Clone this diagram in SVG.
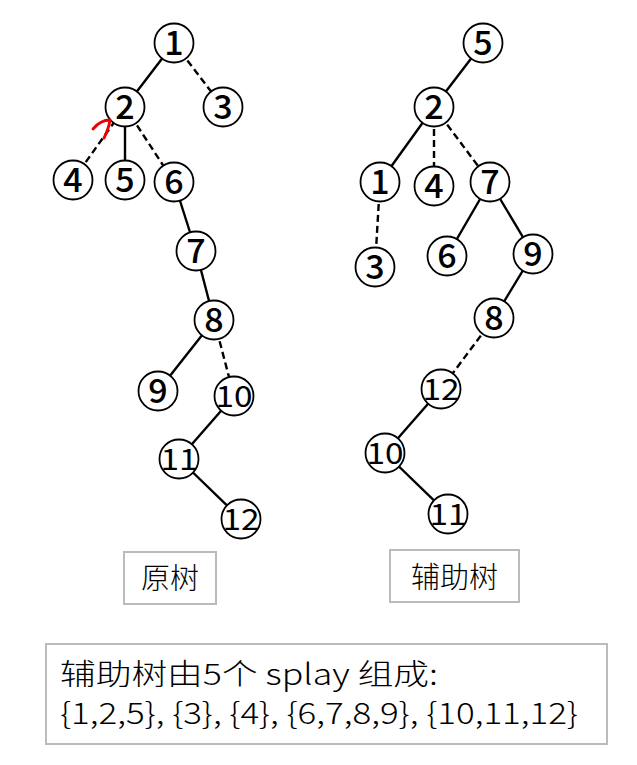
<svg xmlns="http://www.w3.org/2000/svg" width="637" height="765" viewBox="0 0 637 765">
<style>
.e{stroke:#000;stroke-width:2.4;fill:none}
.d{stroke:#000;stroke-width:2.4;fill:none;stroke-dasharray:7 4}
.n circle{fill:#fff;stroke:#000;stroke-width:1.8}
.n text{font-family:"Noto Sans CJK SC","Noto Sans",sans-serif;font-size:34px;font-weight:500;text-anchor:middle;fill:#000}
.n text.w{font-size:29px;font-weight:400}
.box{fill:#fff;stroke:#bbb;stroke-width:2}
.lbl{font-family:"Noto Sans CJK SC",sans-serif;font-size:29px;font-weight:300;fill:#000}
</style>
<rect width="637" height="765" fill="#fff"/>
<g id="connectors">
<line class="e" x1="174" y1="43" x2="125" y2="107"/>
<line class="d" x1="174" y1="43" x2="223" y2="107"/>
<line class="d" x1="73" y1="180" x2="125" y2="107"/>
<line class="e" x1="125" y1="107" x2="125" y2="180"/>
<line class="d" x1="125" y1="107" x2="174" y2="182"/>
<line class="e" x1="174" y1="182" x2="196" y2="251"/>
<line class="e" x1="196" y1="251" x2="214" y2="320"/>
<line class="e" x1="214" y1="320" x2="158" y2="391"/>
<line class="d" x1="214" y1="320" x2="234" y2="396"/>
<line class="e" x1="234" y1="396" x2="179" y2="459"/>
<line class="e" x1="179" y1="459" x2="241" y2="519"/>
<line class="e" x1="483" y1="43" x2="434" y2="107"/>
<line class="e" x1="434" y1="107" x2="380" y2="182"/>
<line class="d" x1="434" y1="107" x2="434" y2="186"/>
<line class="d" x1="434" y1="107" x2="490" y2="182"/>
<line class="d" x1="380" y1="182" x2="375" y2="267"/>
<line class="e" x1="490" y1="182" x2="447" y2="256"/>
<line class="e" x1="490" y1="182" x2="533" y2="254"/>
<line class="e" x1="533" y1="254" x2="494" y2="318"/>
<line class="d" x1="494" y1="318" x2="441" y2="389"/>
<line class="e" x1="441" y1="389" x2="385" y2="453"/>
<line class="e" x1="385" y1="453" x2="448" y2="514"/>
</g>
<g id="left-tree">
<g id="L1" class="n"><circle cx="174" cy="43" r="19.5"/><text x="174" y="55">1</text></g>
<g id="L2" class="n"><circle cx="125" cy="107" r="19.5"/><text x="125" y="119">2</text></g>
<g id="L3" class="n"><circle cx="223" cy="107" r="19.5"/><text x="223" y="119">3</text></g>
<g id="L4" class="n"><circle cx="73" cy="180" r="19.5"/><text x="73" y="192">4</text></g>
<g id="L5" class="n"><circle cx="125" cy="180" r="19.5"/><text x="125" y="192">5</text></g>
<g id="L6" class="n"><circle cx="174" cy="182" r="19.5"/><text x="174" y="194">6</text></g>
<g id="L7" class="n"><circle cx="196" cy="251" r="19.5"/><text x="196" y="263">7</text></g>
<g id="L8" class="n"><circle cx="214" cy="320" r="19.5"/><text x="214" y="332">8</text></g>
<g id="L9" class="n"><circle cx="158" cy="391" r="19.5"/><text x="158" y="403">9</text></g>
<g id="L10" class="n"><circle cx="234" cy="396" r="19.5"/><text class="w" x="234" y="407" textLength="37" lengthAdjust="spacingAndGlyphs">10</text></g>
<g id="L11" class="n"><circle cx="179" cy="459" r="19.5"/><text class="w" x="179" y="470" textLength="37" lengthAdjust="spacingAndGlyphs">11</text></g>
<g id="L12" class="n"><circle cx="241" cy="519" r="19.5"/><text class="w" x="241" y="530" textLength="37" lengthAdjust="spacingAndGlyphs">12</text></g>
</g>
<g id="red-arrow"><path d="M93,129 C98,123 104,120 110,120 C109,127 107,132 104,138" fill="none" stroke="#e00" stroke-width="2.8" stroke-linecap="round" stroke-linejoin="round"/></g>
<g id="right-tree">
<g id="R5" class="n"><circle cx="483" cy="43" r="19.5"/><text x="483" y="55">5</text></g>
<g id="R2" class="n"><circle cx="434" cy="107" r="19.5"/><text x="434" y="119">2</text></g>
<g id="R1" class="n"><circle cx="380" cy="182" r="19.5"/><text x="380" y="194">1</text></g>
<g id="R4" class="n"><circle cx="434" cy="186" r="19.5"/><text x="434" y="198">4</text></g>
<g id="R7" class="n"><circle cx="490" cy="182" r="19.5"/><text x="490" y="194">7</text></g>
<g id="R3" class="n"><circle cx="375" cy="267" r="19.5"/><text x="375" y="279">3</text></g>
<g id="R6" class="n"><circle cx="447" cy="256" r="19.5"/><text x="447" y="268">6</text></g>
<g id="R9" class="n"><circle cx="533" cy="254" r="19.5"/><text x="533" y="266">9</text></g>
<g id="R8" class="n"><circle cx="494" cy="318" r="19.5"/><text x="494" y="330">8</text></g>
<g id="R12" class="n"><circle cx="441" cy="389" r="19.5"/><text class="w" x="441" y="400" textLength="37" lengthAdjust="spacingAndGlyphs">12</text></g>
<g id="R10" class="n"><circle cx="385" cy="453" r="19.5"/><text class="w" x="385" y="464" textLength="37" lengthAdjust="spacingAndGlyphs">10</text></g>
<g id="R11" class="n"><circle cx="448" cy="514" r="19.5"/><text class="w" x="448" y="525" textLength="37" lengthAdjust="spacingAndGlyphs">11</text></g>
</g>
<g id="label-original">
<rect class="box" x="124" y="552" width="92" height="52"/>
<text class="lbl" x="170" y="589" text-anchor="middle">原树</text>
</g>
<g id="label-aux">
<rect class="box" x="390" y="550" width="129" height="52"/>
<text class="lbl" x="454.5" y="588" text-anchor="middle" font-size="30">辅助树</text>
</g>
<g id="caption">
<rect class="box" x="46" y="644" width="561" height="100"/>
<text class="lbl" x="60" y="685" font-size="31" textLength="378" lengthAdjust="spacingAndGlyphs">辅助树由5个 splay 组成:</text>
<text class="lbl" x="60" y="724" font-size="31" textLength="518" lengthAdjust="spacingAndGlyphs">{1,2,5}, {3}, {4}, {6,7,8,9}, {10,11,12}</text>
</g>
</svg>
